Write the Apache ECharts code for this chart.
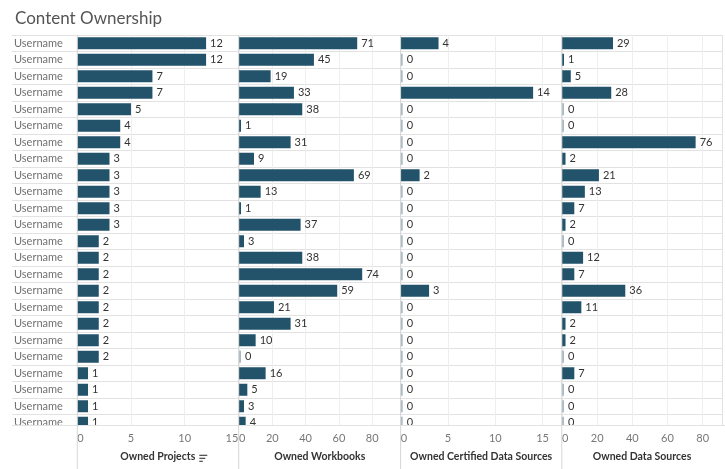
<!DOCTYPE html>
<html>
<head>
<meta charset="utf-8">
<script src="https://cdn.jsdelivr.net/npm/echarts@6/dist/echarts.min.js"></script>
<style>
html,body{margin:0;padding:0;background:#fff;}
#chart{width:725px;height:469px;}
</style>
</head>
<body>
<div id="chart"></div>
<script>
// ---- data ----
const categories = ['Username','Username','Username','Username','Username','Username','Username','Username',
  'Username','Username','Username','Username','Username','Username','Username','Username',
  'Username','Username','Username','Username','Username','Username','Username','Username'];
const ownedProjects = [12,12,7,7,5,4,4,3,3,3,3,3,2,2,2,2,2,2,2,2,1,1,1,1];
const ownedWorkbooks = [71,45,19,33,38,1,31,9,69,13,1,37,3,38,74,59,21,31,10,0,16,5,3,4];
const ownedCertified = [4,0,0,14,0,0,0,0,2,0,0,0,0,0,0,3,0,0,0,0,0,0,0,0];
const ownedDataSources = [29,1,5,28,0,0,76,2,21,13,7,2,0,12,7,36,11,2,2,0,7,0,0,0];
const measureNames = ['Owned Projects','Owned Workbooks','Owned Certified Data Sources','Owned Data Sources'];
const projectTicks = [0,5,10,15];
const workbookTicks = [0,20,40,60,80];
const certifiedTicks = [0,5,10,15];
const dataSourceTicks = [0,20,40,60,80];
const titleText = 'Content Ownership';

// ---- layout / styles ----
const FONT = 'Lato, "Open Sans", sans-serif';
const BAR = '#23536a';
const ZERO = '#a9bac4';
const TOP = 35, ROWH = 16.5, H = ROWH * categories.length;
const panels = [
  {left: 77.3, width: 161, max: 15, interval: 5, ticks: projectTicks, values: ownedProjects},
  {left: 239, width: 161.5, max: 97, interval: 20, ticks: workbookTicks, values: ownedWorkbooks},
  {left: 400.7, width: 160.8, max: 17, interval: 5, ticks: certifiedTicks, values: ownedCertified},
  {left: 562, width: 160, max: 91, interval: 20, ticks: dataSourceTicks, values: ownedDataSources}
];

const grids = [{left: 12, top: TOP, width: 711, height: H, containLabel: false}];
const xAxes = [{gridIndex: 0, type: 'value', show: false, min: 0, max: 1}];
const yAxes = [{
  gridIndex: 0, type: 'category', inverse: true, data: categories,
  axisLine: {show: false}, axisTick: {show: false},
  axisLabel: {inside: true, margin: 2, interval: 0, color: '#707070', fontSize: 11, fontFamily: FONT},
  splitLine: {show: true, interval: 0, lineStyle: {color: '#e2e2e2', width: 1}}
}];
const series = [];

panels.forEach((p, i) => {
  const gi = i + 1;
  grids.push({left: p.left, top: TOP, width: p.width, height: H});
  xAxes.push({
    gridIndex: gi, type: 'value', min: 0, max: p.max, interval: p.interval,
    axisLine: {show: false}, axisTick: {show: false},
    splitLine: {show: true, lineStyle: {color: '#eeeeee', width: 1}},
    axisLabel: {
      margin: 2, color: '#777', fontSize: 11, fontFamily: FONT,
      alignMinLabel: 'left', alignMaxLabel: 'right',
      formatter: (v) => (p.ticks.indexOf(v) >= 0 ? String(v) : '')
    },
    name: measureNames[i], nameLocation: 'middle', nameGap: 20,
    nameTextStyle: {color: '#333', fontSize: 10.5, fontWeight: 'bold', fontFamily: FONT}
  });
  yAxes.push({gridIndex: gi, type: 'category', inverse: true, data: categories, show: false});
  series.push({
    type: 'bar', xAxisIndex: gi, yAxisIndex: gi, barWidth: 12, barMinHeight: 2,
    data: p.values.map(v => ({value: v, itemStyle: {color: v === 0 ? ZERO : BAR}})),
    label: {show: true, position: 'right', distance: 4, color: '#333', fontSize: 11, fontFamily: FONT},
    animation: false
  });
});

const sepColor = '#d6d6d6';
const seps = [77.3, 238.7, 400.6, 561.8];
const graphic = [
  {type: 'rect', z: 100, shape: {x: 0, y: 425.5, width: 725, height: 8}, style: {fill: '#fff'}},
  {type: 'line', z: 101, shape: {x1: 12, y1: 425.5, x2: 725, y2: 425.5}, style: {stroke: '#e2e2e2', lineWidth: 1}},
  {type: 'line', z: 101, shape: {x1: 722.5, y1: TOP, x2: 722.5, y2: 425.5}, style: {stroke: '#e2e2e2', lineWidth: 1}}
];
seps.forEach(x => graphic.push({type: 'line', z: 101, shape: {x1: x, y1: TOP, x2: x, y2: 469}, style: {stroke: sepColor, lineWidth: 1}}));
// sort indicator next to "Owned Projects"
[[8, 455.3], [6, 458.3], [3.5, 461.3]].forEach(([w, y]) => graphic.push({
  type: 'rect', z: 101, shape: {x: 199.3, y: y - 0.6, width: w, height: 1.3}, style: {fill: '#555'}
}));

const chart = echarts.init(document.getElementById('chart'), null, {renderer: 'canvas'});
chart.setOption({
  animation: false,
  backgroundColor: '#fff',
  title: {text: titleText, left: 10, top: 5, textStyle: {color: '#555', fontSize: 17, fontWeight: 'normal', fontFamily: FONT}},
  grid: grids, xAxis: xAxes, yAxis: yAxes, series: series, graphic: graphic
});
</script>
</body>
</html>
